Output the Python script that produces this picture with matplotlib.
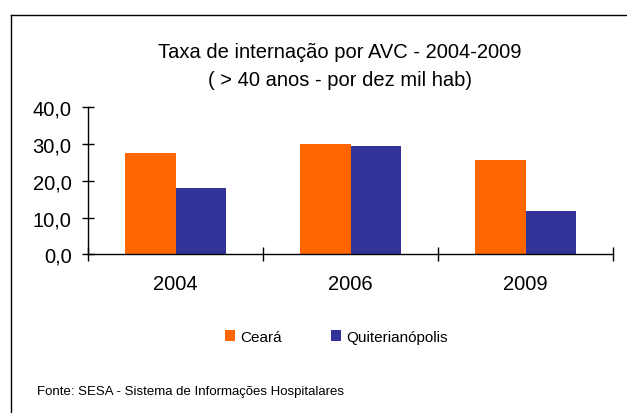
import numpy as np
import matplotlib
matplotlib.use("Agg")
import matplotlib.pyplot as plt
from matplotlib.patches import Patch
from matplotlib.lines import Line2D

plt.rcParams['font.family'] = ['Liberation Sans', 'DejaVu Sans']

# dados
anos = ["2004", "2006", "2009"]
ceara = [27.6, 30.0, 25.7]
quiterianopolis = [18.0, 29.5, 11.8]
series_nomes = ["Ceará", "Quiterianópolis"]
cores = ["#FF6600", "#333399"]
yticks = [0, 10, 20, 30, 40]
ytick_labels = ["0,0", "10,0", "20,0", "30,0", "40,0"]

fig = plt.figure(figsize=(6.27, 4.14), dpi=100)
ax = fig.add_axes([88/627, 1-255.3/414, (613-88)/627, (255.3-108.3)/414])

x = np.arange(len(anos))
w = 0.29
ax.bar(x - w/2, ceara, w, color=cores[0])
ax.bar(x + w/2, quiterianopolis, w, color=cores[1])

ax.set_xlim(-0.5, len(anos) - 0.5)
ax.set_ylim(0, 40)
ax.set_yticks(yticks)
ax.set_yticklabels(ytick_labels, fontsize=14.5)
ax.set_xticks(np.arange(-0.5, len(anos), 1.0))
ax.set_xticklabels([])
ax.set_xticks(x, minor=True)
ax.set_xticklabels(anos, minor=True, fontsize=14.5)
ax.tick_params(axis='x', which='major', direction='inout', length=10, width=1)
ax.tick_params(axis='x', which='minor', length=0, pad=14)
ax.tick_params(axis='y', direction='inout', length=8.5, width=1, pad=7.5)
for s in ['top', 'right']:
    ax.spines[s].set_visible(False)
for s in ['left', 'bottom']:
    ax.spines[s].set_linewidth(1)

fig.text(340/627, 1-52/414, "Taxa de internação por AVC - 2004-2009",
         ha='center', va='center', fontsize=14.5)
fig.text(340/627, 1-80/414, "( > 40 anos - por dez mil hab)",
         ha='center', va='center', fontsize=14.5)

handles = [Patch(facecolor=c, edgecolor='none') for c in cores]
fig.legend(handles, series_nomes, loc='center', bbox_to_anchor=(336/627, 1-338/414),
           ncol=2, frameon=False, fontsize=11, handlelength=0.7, handleheight=0.7,
           handletextpad=0.3, columnspacing=3.2)

fig.text(37/627, 1-392/414, "Fonte: SESA - Sistema de Informações Hospitalares",
         ha='left', va='center', fontsize=9.5)

# moldura
fig.add_artist(Line2D([11/627, 11/627], [0, 1-16/414], color='black', lw=1,
                      transform=fig.transFigure))
fig.add_artist(Line2D([11/627, 1], [1-16/414, 1-16/414], color='black', lw=1,
                      transform=fig.transFigure))

fig.savefig("out.png", dpi=100)
